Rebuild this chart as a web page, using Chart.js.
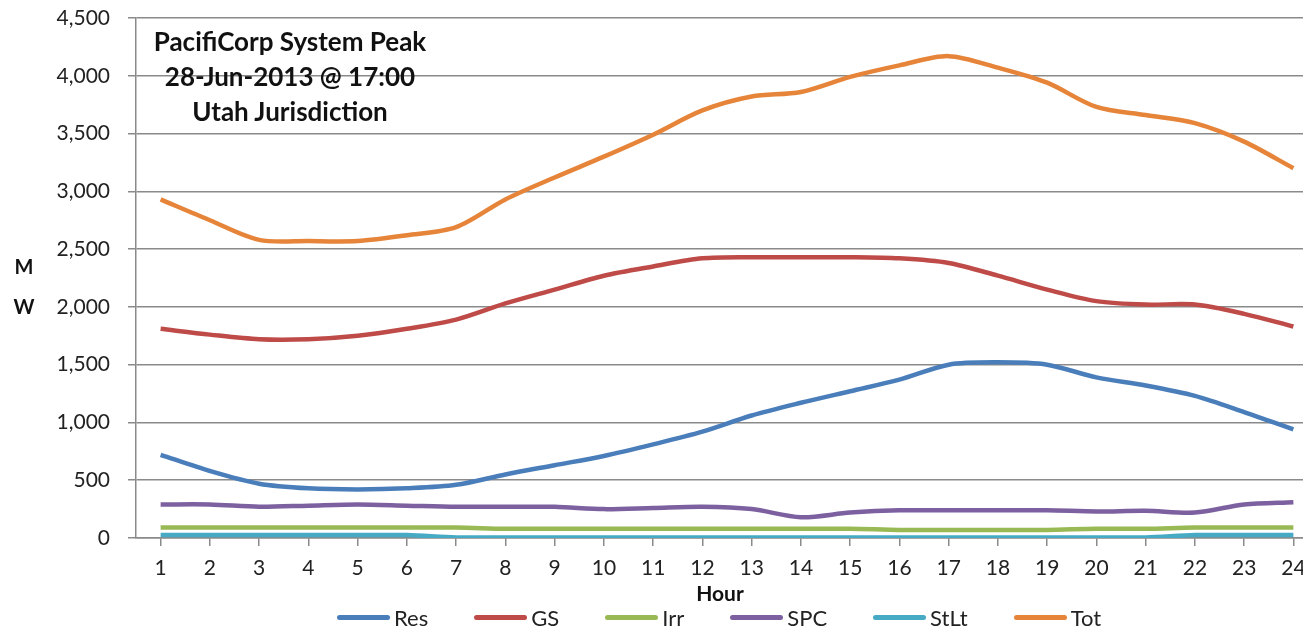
<!DOCTYPE html>
<html>
<head>
<meta charset="utf-8">
<script src="https://cdn.jsdelivr.net/npm/chart.js@4/dist/chart.umd.min.js"></script>
<style>
  body { margin: 0; overflow: hidden; background: #fff; font-family: Lato, "Open Sans", sans-serif; }
  #wrap { position: relative; width: 1303px; height: 630px; overflow: hidden; }
  #c { position: absolute; left: 0; top: 0; }
  .ovl { position: absolute; color: #111; font-weight: bold; }
  #title { left: 120px; top: 24px; width: 340px; text-align: center; font-size: 26px; line-height: 35px; }
  #unit { left: 12px; top: 246px; width: 24px; text-align: center; font-size: 20px; line-height: 40px; }
  #hour { left: 670px; top: 580px; width: 100px; text-align: center; font-size: 21px; }
  #legend { position: absolute; left: 337px; top: 604px; display: flex; gap: 46px; font-size: 22px; color: #222; }
  #legend .it { display: flex; align-items: center; }
  #legend .sw { width: 53px; height: 5px; border-radius: 3px; margin-right: 4px; }
</style>
</head>
<body>
<div id="wrap">
  <canvas id="c" width="1320" height="630"></canvas>
  <div class="ovl" id="title">PacifiCorp System Peak<br>28-Jun-2013 @ 17:00<br>Utah Jurisdiction</div>
  <div class="ovl" id="unit">M<br>W</div>
  <div class="ovl" id="hour">Hour</div>
  <div id="legend"></div>
</div>
<script>
// ore del giorno
const hours = ["1","2","3","4","5","6","7","8","9","10","11","12","13","14","15","16","17","18","19","20","21","22","23","24"];

// carichi in MW
const res  = [720, 580, 470, 430, 420, 430, 460, 550, 630, 710, 810, 920, 1060, 1170, 1270, 1370, 1500, 1520, 1500, 1390, 1320, 1230, 1090, 940];
const gs   = [1810, 1760, 1720, 1720, 1750, 1810, 1890, 2030, 2150, 2270, 2350, 2420, 2430, 2430, 2430, 2420, 2380, 2270, 2150, 2050, 2020, 2020, 1940, 1830];
const irr  = [90, 90, 90, 90, 90, 90, 90, 80, 80, 80, 80, 80, 80, 80, 80, 70, 70, 70, 70, 80, 80, 90, 90, 90];
const spc  = [290, 290, 270, 280, 290, 280, 270, 270, 270, 250, 260, 270, 250, 180, 220, 240, 240, 240, 240, 230, 235, 220, 290, 310];
const stlt = [25, 25, 25, 25, 25, 25, 5, 5, 5, 5, 5, 5, 5, 5, 5, 5, 5, 5, 5, 5, 5, 25, 25, 25];
const tot  = [2930, 2750, 2580, 2570, 2570, 2620, 2690, 2930, 3120, 3300, 3490, 3700, 3820, 3860, 3990, 4090, 4170, 4070, 3940, 3730, 3660, 3590, 3430, 3200];

// tick asse y
const yTicks = [0, 500, 1000, 1500, 2000, 2500, 3000, 3500, 4000, 4500];

const serie = [
  { label: "Res",  data: res,  color: "#4A7EBB" },
  { label: "GS",   data: gs,   color: "#BE4B48" },
  { label: "Irr",  data: irr,  color: "#98B954" },
  { label: "SPC",  data: spc,  color: "#7D60A0" },
  { label: "StLt", data: stlt, color: "#46AAC5" },
  { label: "Tot",  data: tot,  color: "#E6853A" }
];

const grigio = "#8a8a8a";
const fontTick = { family: "Lato", size: 21 };

const chart = new Chart(document.getElementById("c"), {
  type: "line",
  data: {
    labels: hours,
    datasets: serie.map(s => ({
      label: s.label,
      data: s.data,
      borderColor: s.color,
      backgroundColor: s.color,
      borderWidth: 4.5,
      pointRadius: 0,
      tension: 0.3,
      fill: false
    }))
  },
  options: {
    responsive: false,
    animation: false,
    devicePixelRatio: 1,
    layout: { padding: { left: 0, top: 18, right: 2, bottom: 0 } },
    plugins: {
      legend: { display: false },
      tooltip: { enabled: false }
    },
    scales: {
      x: {
        offset: true,
        grid: { drawOnChartArea: false, drawTicks: true, tickLength: 8, color: grigio, lineWidth: 1.5 },
        border: { color: grigio, width: 1.5 },
        ticks: { color: "#222", font: fontTick, padding: 10, maxRotation: 0, autoSkip: false },
        afterFit: s => { s.height = 92; s.paddingLeft = 0; s.paddingRight = 0; }
      },
      y: {
        min: 0,
        max: 4500,
        afterBuildTicks: s => { s.ticks = yTicks.map(v => ({ value: v })); },
        grid: { color: grigio, lineWidth: 1.5, drawTicks: true, tickLength: 8 },
        border: { color: grigio, width: 1.5 },
        ticks: {
          color: "#222",
          font: fontTick,
          padding: 18,
          callback: v => v.toLocaleString("en-US")
        },
        // il margine sopra lo decido io
        afterFit: s => { s.width = 136; s.paddingTop = 0; s.paddingBottom = 0; }
      }
    }
  }
});

// legenda html costruita dai dataset
const leg = document.getElementById("legend");
chart.data.datasets.forEach(d => {
  const it = document.createElement("div");
  it.className = "it";
  it.innerHTML = `<span class="sw" style="background:${d.borderColor}"></span><span>${d.label}</span>`;
  leg.appendChild(it);
});
</script>
</body>
</html>
